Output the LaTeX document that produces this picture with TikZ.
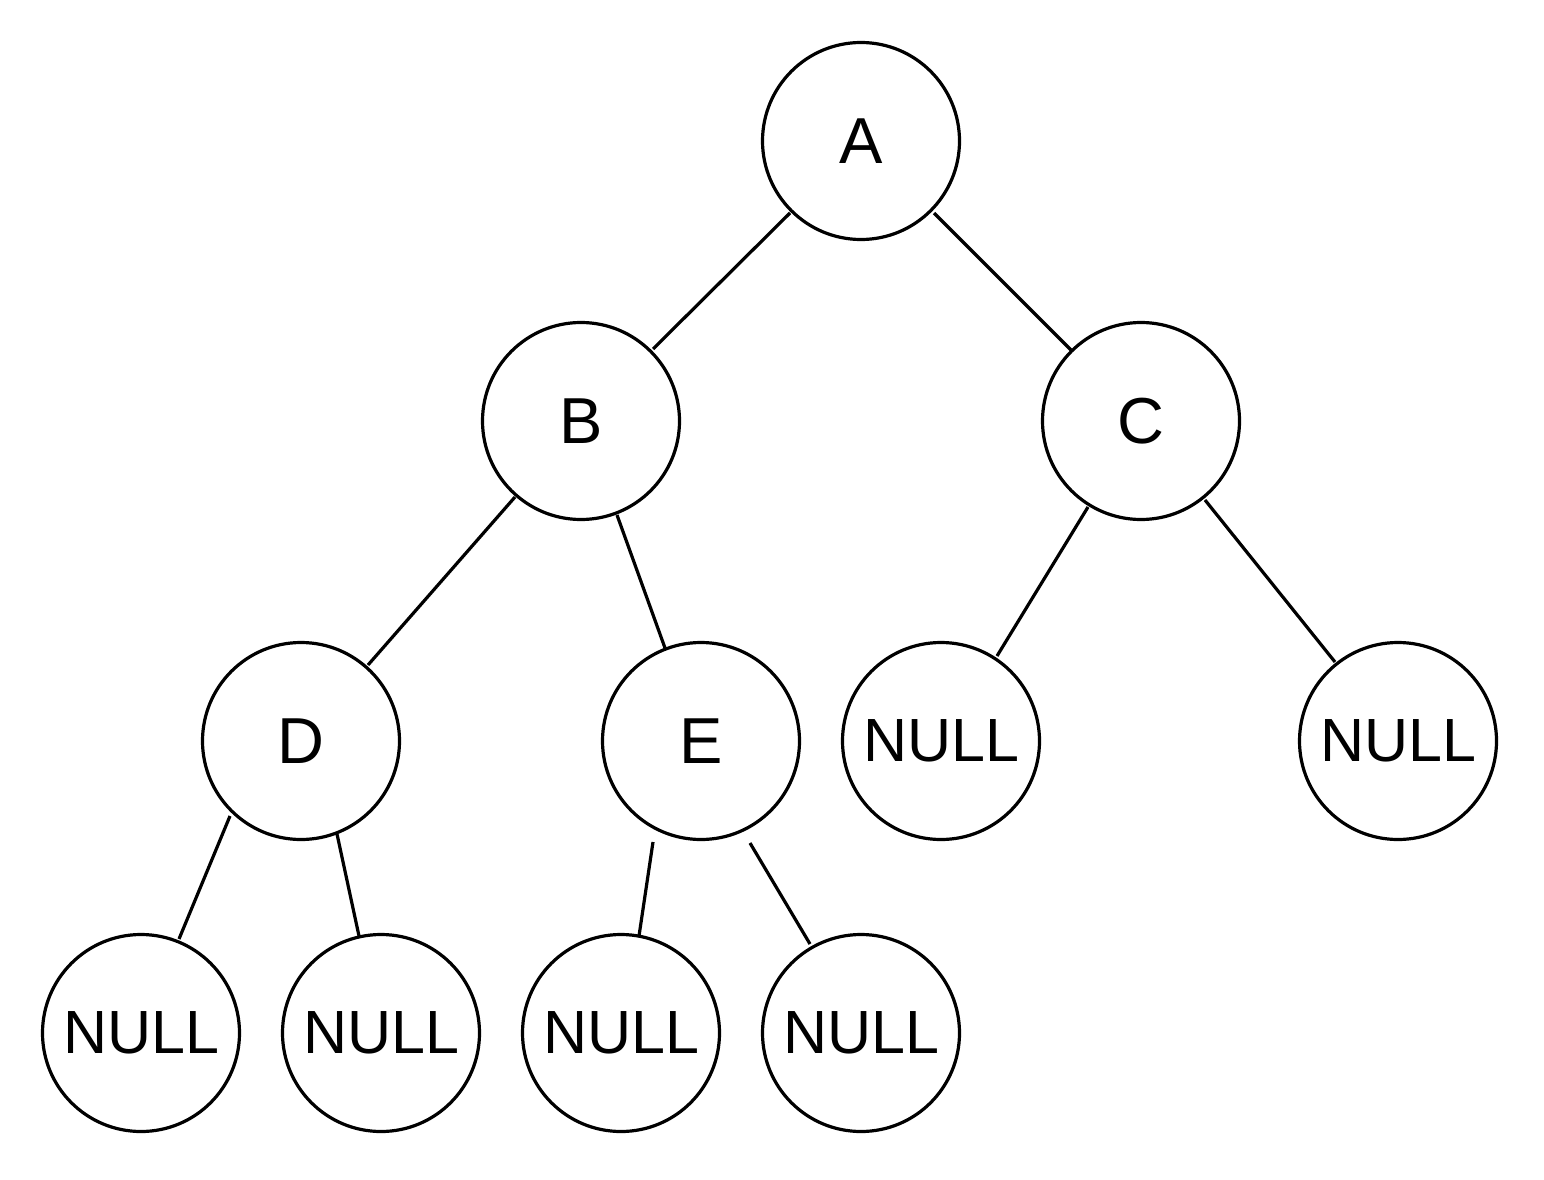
\documentclass[tikz,border=0pt]{standalone}
\usepackage{fontspec}
\setmainfont{Liberation Sans}
\usetikzlibrary{calc}
\tikzset{
  tnode/.style={circle, draw=black, line width=3.2pt, minimum size=197pt, inner sep=0pt, font=\fontsize{65}{65}\selectfont},
  nullnode/.style={tnode, font=\fontsize{61}{61}\selectfont},
  tedge/.style={draw=black, line width=3.2pt}
}
\begin{document}
\begin{tikzpicture}[x=1pt,y=-1pt]
\useasboundingbox (0,0) rectangle (1544,1180);
\node[tnode] (A) at (861,141) {A};
\node[tnode] (B) at (581,421) {B};
\node[tnode] (C) at (1141,421) {C};
\node[tnode] (D) at (301,741) {D};
\node[tnode] (E) at (701,741) {E};
\node[nullnode] (N1) at (941,741) {NULL};
\node[nullnode] (N2) at (1398,741) {NULL};
\node[nullnode] (N3) at (141,1033) {NULL};
\node[nullnode] (N4) at (381,1033) {NULL};
\node[nullnode] (N5) at (621,1033) {NULL};
\node[nullnode] (N6) at (861,1033) {NULL};
\draw[tedge] ($(A)+(-71,72)$) -- ($(B)+(72,-72)$);
\draw[tedge] ($(A)+(73,72)$) -- ($(C)+(-70,-71)$);
\draw[tedge] ($(B)+(-66,76)$) -- ($(D)+(67,-76)$);
\draw[tedge] ($(B)+(36,94)$) -- ($(E)+(-36,-93)$);
\draw[tedge] ($(C)+(-53,86)$) -- ($(N1)+(56,-85)$);
\draw[tedge] ($(C)+(64,79)$) -- ($(N2)+(-63,-79)$);
\draw[tedge] ($(D)+(-71,75)$) -- ($(N3)+(38,-94)$);
\draw[tedge] ($(D)+(36,93)$) -- ($(N4)+(-22,-97)$);
\draw[tedge] ($(E)+(-48,101)$) -- ($(N5)+(18,-97)$);
\draw[tedge] ($(E)+(49,102)$) -- ($(N6)+(-51,-89)$);
\end{tikzpicture}
\end{document}
